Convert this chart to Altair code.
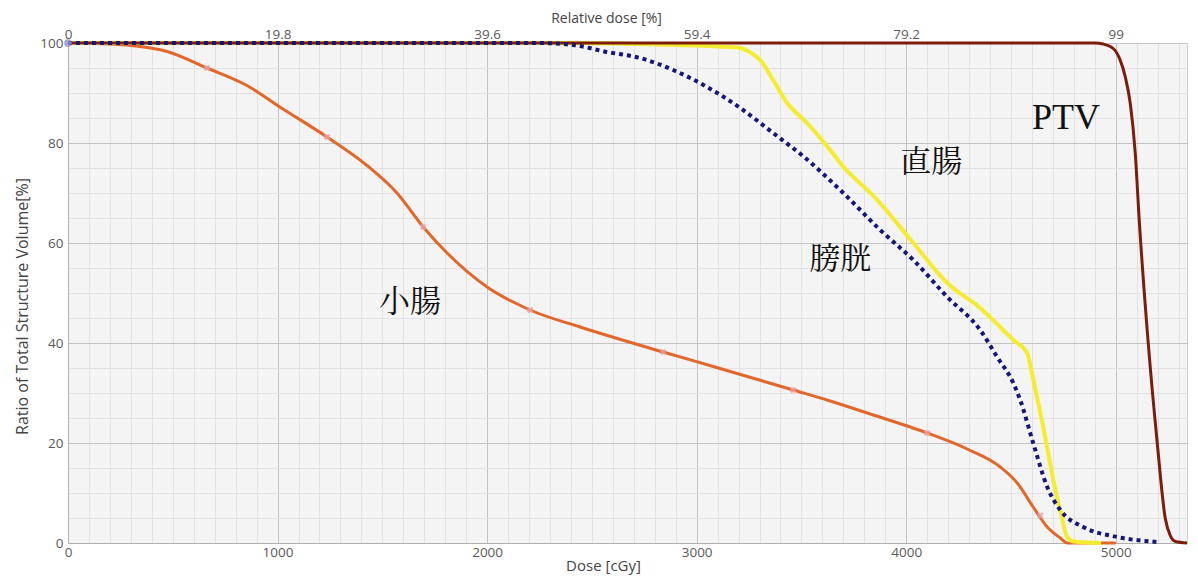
import altair as alt
import pandas as pd

# dose axis [cGy] and the matching relative-dose labels on the top axis
dose_max = 5340
major_doses = [0, 1000, 2000, 3000, 4000, 5000]
rel_labels = ["0", "19.8", "39.6", "59.4", "79.2", "99"]

# PTV
ptv_dose = [0, 4900, 4940, 4988, 5021, 5045, 5069, 5093, 5112, 5155, 5198, 5236, 5260, 5285, 5340]
ptv_vol = [100, 100, 99.8, 98.9, 96.6, 93.3, 88, 78, 64.6, 40, 20, 5, 1.5, 0.3, 0]

# 直腸 (rectum)
rect_dose = [0, 2400, 2800, 3100, 3208, 3260, 3303, 3365, 3432, 3527, 3637, 3685, 3862, 4034,
             4196, 4353, 4511, 4577, 4600, 4625, 4650, 4680, 4710, 4735, 4768, 4800, 4930]
rect_vol = [100, 100, 99.7, 99.3, 99, 98, 96.6, 92.6, 88, 84, 78.6, 76, 68.6, 60,
            52, 47, 40.6, 38, 34, 29, 24, 17.5, 11, 6.6, 1.2, 0.3, 0]

# 膀胱 (bladder)
blad_dose = [0, 2250, 2410, 2572, 2730, 2888, 3050, 3208, 3365, 3510, 3700, 3876, 4034, 4196,
             4353, 4434, 4511, 4544, 4606, 4673, 4735, 4845, 5007, 5198]
blad_vol = [100, 100, 99.6, 98.2, 97, 94.6, 91.2, 87, 82, 77.3, 70, 62.6, 56.6, 49.2,
            42.6, 37.2, 32, 28.6, 20, 11.2, 6.6, 3.2, 1.2, 0.2]

# 小腸 (small bowel)
bowel_dose = [0, 200, 300, 473, 663, 854, 1026, 1236, 1427, 1570, 1695, 1809, 2000, 2205,
              2444, 2840, 3079, 3461, 3637, 3814, 4100, 4291, 4449, 4530, 4606, 4673, 4735,
              4768, 5000]
bowel_vol = [100, 99.8, 99.5, 98.3, 95, 91.5, 86.8, 81.2, 75.5, 70, 63.2, 58, 51.2, 46.6,
             43.2, 38.2, 35.3, 30.6, 28.4, 26.0, 22, 18.8, 15.2, 12, 7.2, 3.2, 1,
             0, 0]

# faint markers sitting on the small-bowel curve
mark_dose = [663, 1236, 1695, 2205, 2840, 3461, 4100, 4640]
mark_vol = [95, 81.2, 63.2, 46.6, 38.2, 30.6, 22, 5.5]

# organ labels
label_text = ["PTV", "直腸", "膀胱", "小腸"]
label_dose = [4762, 4119, 3685, 1632]
label_vol = [85, 76, 56.6, 48]

x_scale = alt.Scale(domain=[0, dose_max], nice=False, zero=False)
y_scale = alt.Scale(domain=[0, 100], nice=False, zero=False)

x_grid_axis = alt.Axis(
    orient="bottom",
    values=list(range(0, dose_max + 1, 100)),
    format="d",
    labelExpr="datum.value % 1000 === 0 ? datum.label : ''",
    gridColor={"condition": {"test": "datum.value % 1000 === 0", "value": "#c4c4c4"}, "value": "#e2e2e2"},
    ticks=False,
    labelFlush=False,
    labelOverlap=False,
    labelPadding=2,
    title="Dose [cGy]",
    titleX=535,
    titlePadding=0,
)
y_grid_axis = alt.Axis(
    orient="left",
    values=list(range(0, 101, 5)),
    format="d",
    labelExpr="datum.value % 20 === 0 ? datum.label : ''",
    gridColor={"condition": {"test": "datum.value % 20 === 0", "value": "#c4c4c4"}, "value": "#e2e2e2"},
    ticks=False,
    labelFlush=False,
    labelOverlap=False,
    labelPadding=5,
    title="Ratio of Total Structure Volume[%]",
    titleFontSize=16,
    titleY=263,
    titlePadding=9,
)
top_axis = alt.Axis(
    orient="top",
    values=major_doses,
    labelExpr="[" + ",".join(f"'{s}'" for s in rel_labels) + "][round(datum.value / 1000)]",
    grid=False,
    ticks=False,
    tickSize=0,
    domain=False,
    labelFlush=False,
    labelPadding=2,
    title="Relative dose [%]",
    titleFontSize=14,
    titleX=538,
    titlePadding=2,
)


def curve(doses, vols):
    return pd.DataFrame({"dose": doses, "vol": vols})


bowel = (
    alt.Chart(curve(bowel_dose, bowel_vol))
    .mark_line(color="#e2672b", strokeWidth=3, interpolate="monotone")
    .encode(
        x=alt.X("dose:Q", scale=x_scale, axis=x_grid_axis),
        y=alt.Y("vol:Q", scale=y_scale, axis=y_grid_axis),
    )
)

markers = (
    alt.Chart(curve(mark_dose, mark_vol))
    .mark_point(shape="cross", angle=45, filled=True, color="#eaa2a6", opacity=0.8, size=45)
    .encode(x=alt.X("dose:Q", axis=None), y=alt.Y("vol:Q", axis=None))
)

rectum = (
    alt.Chart(curve(rect_dose, rect_vol))
    .mark_line(color="#f6ec2f", strokeWidth=4, interpolate="monotone")
    .encode(x=alt.X("dose:Q", axis=None), y=alt.Y("vol:Q", axis=None))
)

ptv = (
    alt.Chart(curve(ptv_dose, ptv_vol))
    .mark_line(color="#7c1d0b", strokeWidth=3, interpolate="monotone")
    .encode(x=alt.X("dose:Q", axis=None), y=alt.Y("vol:Q", axis=None))
)

bladder = (
    alt.Chart(curve(blad_dose, blad_vol))
    .mark_line(color="#15157a", strokeWidth=4, strokeDash=[4, 4], interpolate="monotone")
    .encode(x=alt.X("dose:Q", axis=None), y=alt.Y("vol:Q", axis=None))
)

start_dot = (
    alt.Chart(curve([0], [100]))
    .mark_circle(color="#8f8fd0", size=60, opacity=0.8)
    .encode(x=alt.X("dose:Q", axis=None), y=alt.Y("vol:Q", axis=None))
)

labels_df = pd.DataFrame({"text": label_text, "dose": label_dose, "vol": label_vol})
ptv_label = (
    alt.Chart(labels_df[labels_df["text"] == "PTV"])
    .mark_text(font="Liberation Serif", fontSize=36, color="#111")
    .encode(x=alt.X("dose:Q", axis=top_axis), y=alt.Y("vol:Q", axis=None), text="text:N")
)
jp_labels = (
    alt.Chart(labels_df[labels_df["text"] != "PTV"])
    .mark_text(font="Noto Serif CJK JP, Noto Sans CJK JP", fontSize=31, color="#111")
    .encode(x=alt.X("dose:Q", axis=None), y=alt.Y("vol:Q", axis=None), text="text:N")
)

chart = (
    alt.layer(bowel, markers, rectum, ptv, bladder, start_dot, ptv_label, jp_labels)
    .resolve_axis(x="independent", y="independent")
    .properties(
        width=1119,
        height=500,
        autosize=alt.AutoSizeParams(type="none"),
        padding={"left": 60, "top": 35, "right": 3, "bottom": 34},
    )
    .configure_view(fill="#f4f4f4", stroke="#d0d0d0", strokeWidth=1)
    .configure_axis(
        labelFont="Open Sans",
        labelFontSize=13.5,
        labelColor="#5a5a5a",
        titleFont="Open Sans",
        titleFontSize=15,
        titleFontWeight="normal",
        titleColor="#444444",
        domainColor="#b0b0b0",
    )
)

chart.save("out.html", embed_options={"renderer": "svg", "actions": False})
